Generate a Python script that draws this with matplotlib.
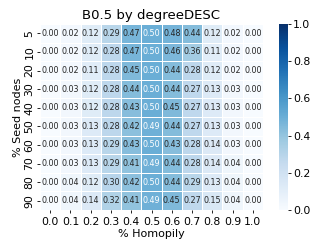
import matplotlib
matplotlib.use("Agg")
import matplotlib.pyplot as plt
import seaborn as sns
import numpy as np

seed_nodes = [5, 10, 20, 30, 40, 50, 60, 70, 80, 90]
homophily = ["0.0", "0.1", "0.2", "0.3", "0.4", "0.5", "0.6", "0.7", "0.8", "0.9", "1.0"]
values = [
    [0.00, 0.02, 0.12, 0.29, 0.47, 0.50, 0.48, 0.44, 0.12, 0.02, 0.00],
    [0.00, 0.02, 0.12, 0.28, 0.47, 0.50, 0.46, 0.36, 0.11, 0.02, 0.00],
    [0.00, 0.02, 0.11, 0.28, 0.45, 0.50, 0.44, 0.28, 0.12, 0.02, 0.00],
    [0.00, 0.03, 0.12, 0.28, 0.44, 0.50, 0.44, 0.27, 0.13, 0.03, 0.00],
    [0.00, 0.03, 0.12, 0.28, 0.43, 0.50, 0.45, 0.27, 0.13, 0.03, 0.00],
    [0.00, 0.03, 0.13, 0.28, 0.42, 0.49, 0.44, 0.27, 0.13, 0.03, 0.00],
    [0.00, 0.03, 0.13, 0.29, 0.43, 0.50, 0.43, 0.28, 0.14, 0.03, 0.00],
    [0.00, 0.03, 0.13, 0.29, 0.41, 0.49, 0.44, 0.28, 0.14, 0.04, 0.00],
    [0.00, 0.04, 0.12, 0.30, 0.42, 0.50, 0.44, 0.29, 0.13, 0.04, 0.00],
    [0.00, 0.04, 0.14, 0.32, 0.41, 0.49, 0.45, 0.27, 0.15, 0.04, 0.00],
]

W, H = 332, 249
fig = plt.figure(figsize=(W / 100, H / 100), dpi=100)
ax = fig.add_axes([40 / W, (H - 210) / H, 223 / W, 186 / H])
cax = fig.add_axes([279 / W, (H - 210) / H, 9 / W, 186 / H])
sns.heatmap(np.array(values), ax=ax, cbar_ax=cax, cmap="Blues", vmin=0, vmax=1,
            annot=True, fmt=".2f", annot_kws={"fontsize": 5.8},
            linewidths=0.5, linecolor="white",
            xticklabels=homophily, yticklabels=seed_nodes)
ax.set_title("B0.5 by degreeDESC", fontsize=9.5, pad=3.5)
ax.set_xlabel("% Homopily", fontsize=8, labelpad=1.5)
ax.set_ylabel("% Seed nodes", fontsize=8, labelpad=1)
ax.tick_params(axis="x", labelsize=7.8, rotation=0, pad=2.5, length=2.5, width=0.6)
ax.tick_params(axis="y", labelsize=7.8, rotation=90, pad=1.5, length=2.5, width=0.6)
cax.tick_params(labelsize=7.8, length=2.5, pad=1, width=0.6)
cax.set_yticks([0.0, 0.2, 0.4, 0.6, 0.8, 1.0])
fig.savefig("out.png", dpi=100)
